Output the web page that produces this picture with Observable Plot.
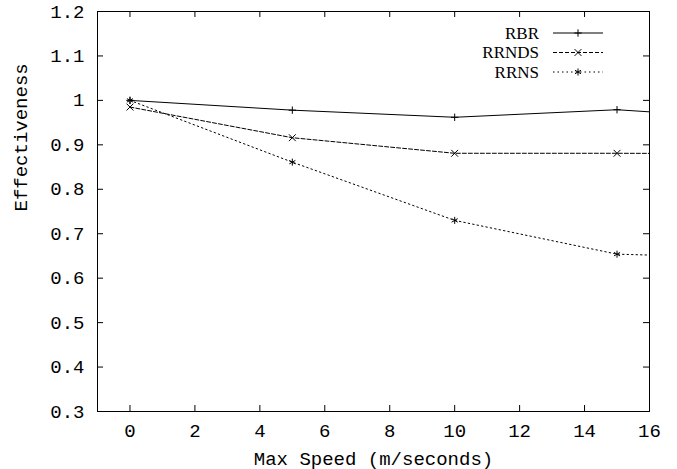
<!DOCTYPE html>
<html><head><meta charset="utf-8">
<script src="https://cdn.jsdelivr.net/npm/d3@7"></script>
<script src="https://cdn.jsdelivr.net/npm/@observablehq/plot@0.6"></script>
<style>body{margin:0;background:#fff}</style>
</head><body><div id="chart"></div>
<script>
// ---- data ----
const speeds = [0, 5, 10, 15, 20];
const seriesNames = ["RBR", "RRNDS", "RRNS"];
const rbr   = [1.000, 0.978, 0.962, 0.979, 0.955];
const rrnds = [0.985, 0.916, 0.881, 0.881, 0.880];
const rrns  = [1.000, 0.861, 0.730, 0.654, 0.644];
const xTicks = [0, 2, 4, 6, 8, 10, 12, 14, 16];
const yTicks = [0.3, 0.4, 0.5, 0.6, 0.7, 0.8, 0.9, 1.0, 1.1, 1.2];
const xLabel = "Max Speed (m/seconds)";
const yLabel = "Effectiveness";

// ---- styles ----
const seriesValues = [rbr, rrnds, rrns];
const symbolsBySeries = {RBR: "plus", RRNDS: "times", RRNS: "asterisk"};
const dashBySeries = {RBR: null, RRNDS: "4,2", RRNS: "1.5,3"};
const rBySeries = {RBR: 2.5, RRNDS: 3.2, RRNS: 3.3};

const W = 677, H = 469;
const mL = 97, mR = 28, mT = 11, mB = 58;
const fw = W - mL - mR, fh = H - mT - mB;
const tick = 6;

const rows = seriesNames.flatMap((s, i) => speeds.map((x, j) => ({series: s, x, y: seriesValues[i][j]})));

const legend = (index, scales, values, dims) => {
  const g = d3.create("svg:g");
  const right = dims.width - dims.marginRight;
  const top = dims.marginTop;
  seriesNames.forEach((s, i) => {
    const y = top + 22 + i * 19.5;
    g.append("text").attr("x", right - 110).attr("y", y).attr("dy", "0.35em")
      .attr("text-anchor", "end").attr("font-family", "Liberation Serif, serif")
      .attr("font-size", 17).attr("fill", "black").text(s);
    g.append("line").attr("x1", right - 96).attr("x2", right - 46).attr("y1", y).attr("y2", y)
      .attr("stroke", "black").attr("stroke-width", 1)
      .attr("stroke-dasharray", dashBySeries[s]);
    const sym = {plus: d3.symbolPlus, times: d3.symbolTimes, asterisk: d3.symbolAsterisk}[symbolsBySeries[s]];
    const r = rBySeries[s];
    g.append("path").attr("transform", `translate(${right - 71},${y})`)
      .attr("d", d3.symbol(sym, Math.PI * r * r)()).attr("fill", "none").attr("stroke", "black");
  });
  return g.node();
};

const marks = [
  Plot.frame({stroke: "black"}),
  Plot.ruleX(xTicks, {x: d => d, stroke: "black", insetTop: fh - tick}),
  Plot.ruleX(xTicks, {x: d => d, stroke: "black", insetBottom: fh - tick}),
  Plot.ruleY(yTicks, {y: d => d, stroke: "black", insetRight: fw - tick}),
  Plot.ruleY(yTicks, {y: d => d, stroke: "black", insetLeft: fw - tick}),
];
for (const s of seriesNames) {
  const d = rows.filter(r => r.series === s);
  marks.push(Plot.line(d, {x: "x", y: "y", stroke: "black", strokeWidth: 1, strokeDasharray: dashBySeries[s], clip: true}));
  marks.push(Plot.dot(d, {x: "x", y: "y", symbol: () => symbolsBySeries[s], r: rBySeries[s], stroke: "black", strokeWidth: 1, clip: true}));
}
marks.push(Plot.text([xLabel], {text: d => d, frameAnchor: "bottom", dy: 53, fill: "black"}));
marks.push(Plot.text([yLabel], {text: d => d, frameAnchor: "left", dx: -77, rotate: -90, fill: "black"}));
marks.push(legend);

const chart = Plot.plot({
  width: W, height: H,
  marginLeft: mL, marginRight: mR, marginTop: mT, marginBottom: mB,
  style: {fontFamily: "Liberation Mono, Courier New, monospace", fontSize: "19px", color: "black", background: "white"},
  x: {domain: [-1, 16], ticks: xTicks, tickSize: 0, tickPadding: 12, label: null},
  y: {domain: [0.3, 1.2], ticks: yTicks, tickSize: 0, tickPadding: 13, label: null, tickFormat: d => String(+d.toFixed(1))},
  marks
});
document.getElementById("chart").appendChild(chart);
</script>
</body></html>
